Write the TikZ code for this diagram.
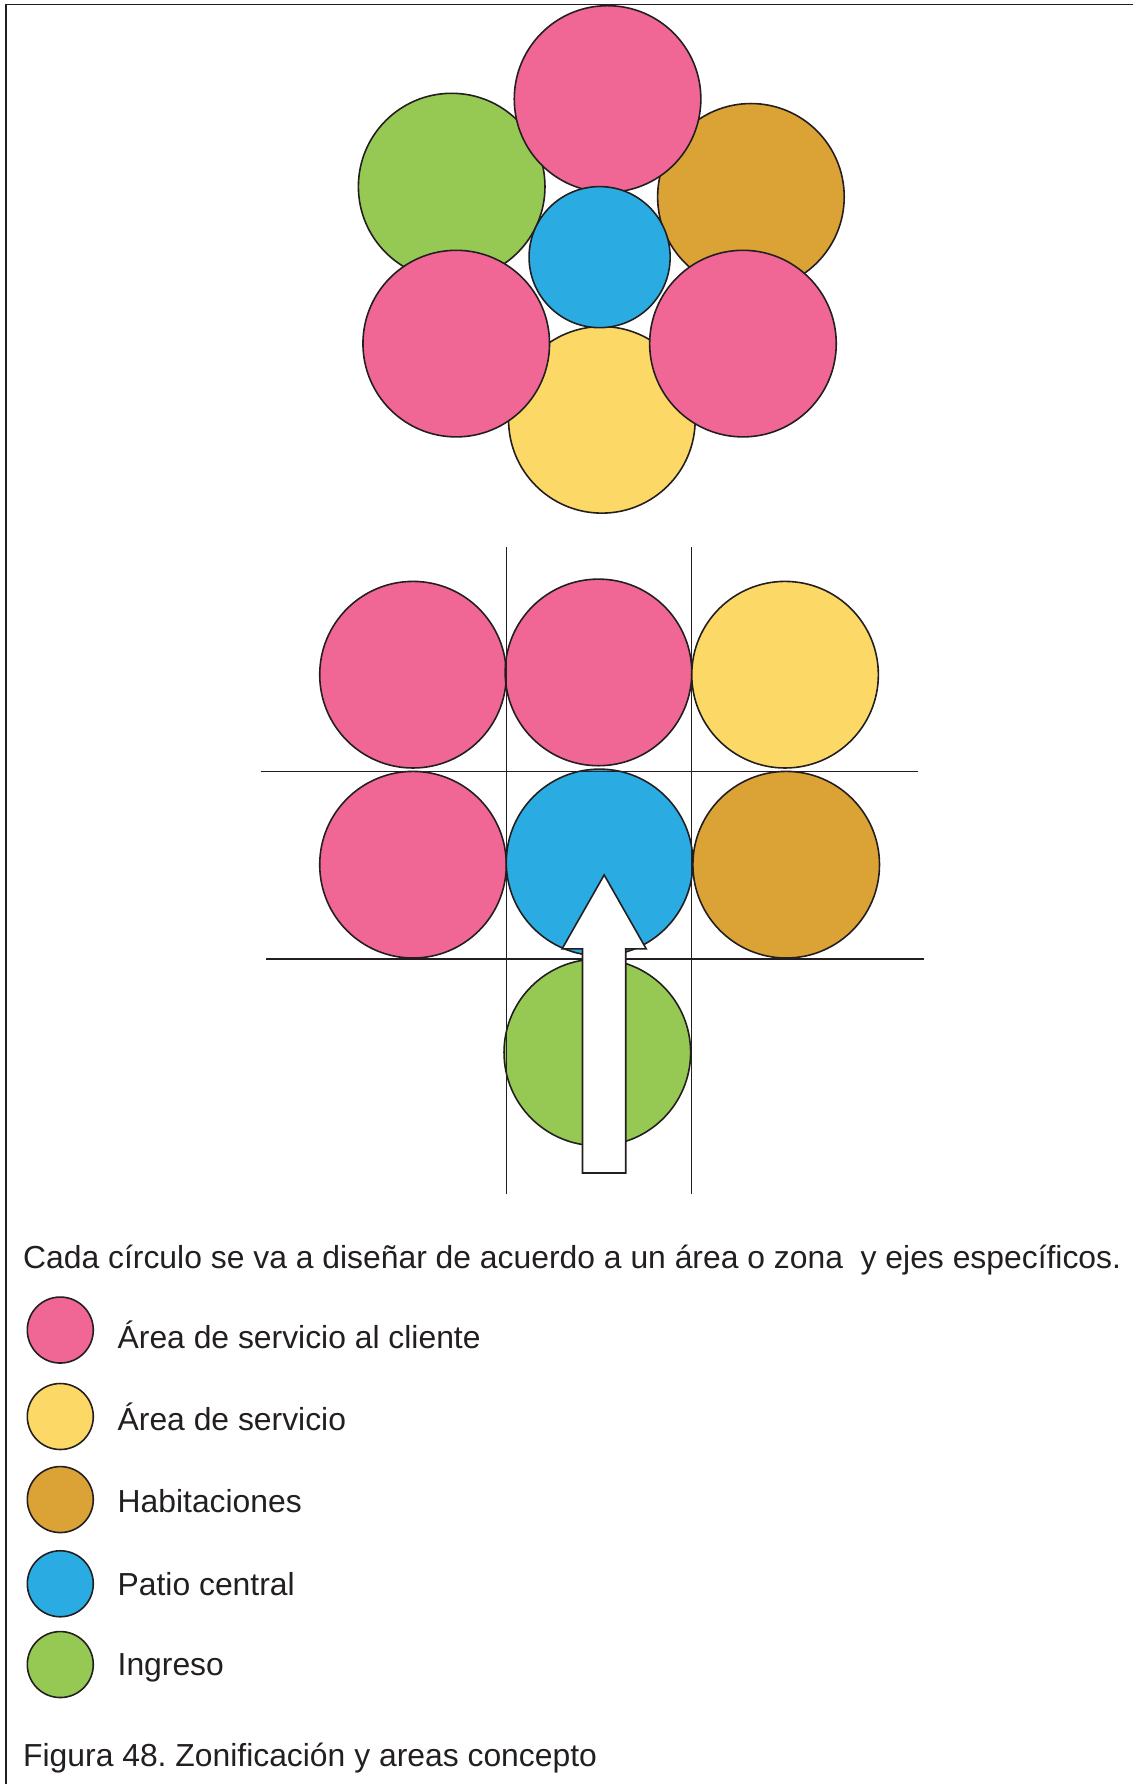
\documentclass[tikz,border=0pt]{standalone}
\usepackage{fontspec}
\setmainfont{Liberation Sans}
\frenchspacing
\definecolor{rosa}{HTML}{F06795}
\definecolor{amarillo}{HTML}{FCD967}
\definecolor{ocre}{HTML}{DBA236}
\definecolor{celeste}{HTML}{2AABE2}
\definecolor{verde}{HTML}{95C953}
\definecolor{tinta}{HTML}{231F20}

\begin{document}
\begin{tikzpicture}[x=0.5pt, y=-0.5pt,
    zona/.style={draw=tinta, line width=0.7pt},
    eje/.style={draw=tinta, line width=0.6pt},
    rotulo/.style={anchor=base west, inner sep=0pt, text=tinta, font=\fontsize{14}{17}\selectfont}]
    \useasboundingbox (0,0) rectangle (996,1568);
    % marco
    \draw [tinta, line width=0.8pt] (996,4) -- (5,4) -- (5,1568);
    % flor de zonas
    \draw [zona, fill=verde] (397,164) circle (82);
    \draw [zona, fill=ocre] (660,173) circle (82);
    \draw [zona, fill=amarillo] (529,369) circle (82);
    \draw [zona, fill=rosa] (534,87) circle (82);
    \draw [zona, fill=rosa] (401,302) circle (82);
    \draw [zona, fill=rosa] (653,302) circle (82);
    \draw [zona, fill=celeste] (527,226) circle (62);
    % trama de ejes
    \draw [zona, fill=rosa] (363,593) circle (82);
    \draw [zona, fill=rosa] (526,591) circle (82);
    \draw [zona, fill=amarillo] (690,593) circle (82);
    \draw [zona, fill=rosa] (363,760) circle (82);
    \draw [zona, fill=celeste] (527,758) circle (82);
    \draw [zona, fill=ocre] (691,760) circle (82);
    \draw [zona, fill=verde] (525,925) circle (82);
    \draw [eje] (445,481) -- (445,1049);
    \draw [eje] (608,481) -- (608,1049);
    \draw [eje] (229,678) -- (807,678);
    \draw [eje] (234,843) -- (812,843);
    \draw [zona, fill=white] (531,769) -- (568,834) -- (550,834) -- (550,1031)
        -- (512,1031) -- (512,834) -- (494,834) -- cycle;
    % textos
    \node (nota) at (20,1115) [rotulo] {Cada círculo se va a diseñar de acuerdo a un área o zona \ y ejes específicos.};
    \draw [zona, fill=rosa] (53,1169) circle (29);
    \node (cliente) at (103,1185) [rotulo] {Área de servicio al cliente};
    \draw [zona, fill=amarillo] (53,1245) circle (29);
    \node (servicio) at (103,1257) [rotulo] {Área de servicio};
    \draw [zona, fill=ocre] (53,1318) circle (29);
    \node (habitaciones) at (103,1329) [rotulo] {Habitaciones};
    \draw [zona, fill=celeste] (53,1392) circle (29);
    \node (patio) at (103,1402) [rotulo] {Patio central};
    \draw [zona, fill=verde] (53,1463) circle (29);
    \node (ingreso) at (103,1473) [rotulo] {Ingreso};
    \node (figura) at (20,1553) [rotulo] {Figura 48. Zonificación y areas concepto};
\end{tikzpicture}
\end{document}
